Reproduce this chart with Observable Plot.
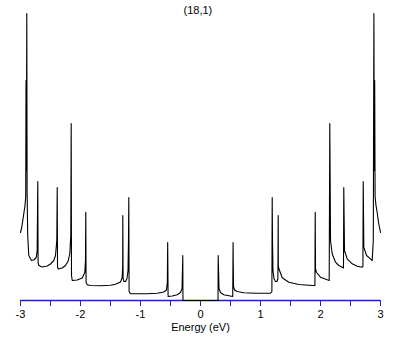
<!DOCTYPE html>
<html>
<head>
<meta charset="utf-8">
<script src="https://cdn.jsdelivr.net/npm/d3@7"></script>
<script src="https://cdn.jsdelivr.net/npm/@observablehq/plot@0.6"></script>
<style>
  html, body { margin: 0; padding: 0; background: #fff; }
  #chart svg { display: block; }
</style>
</head>
<body>
<div id="chart"></div>
<script>
const title = "(18,1)";
const xLabel = "Energy (eV)";
const tickValues = [-3, -2.5, -2, -1.5, -1, -0.5, 0, 0.5, 1, 1.5, 2, 2.5, 3];

// Density of states (arbitrary units)
const energy = [
  -3.000, -2.983, -2.962, -2.942, -2.925, -2.913, -2.908, -2.903, -2.895, -2.890, -2.880, -2.862,
  -2.817, -2.778, -2.738, -2.722, -2.712, -2.707, -2.695, -2.638, -2.555, -2.500, -2.445, -2.417,
  -2.395, -2.388, -2.383, -2.372, -2.305, -2.250, -2.205, -2.178, -2.162, -2.155, -2.150, -2.138,
  -2.055, -1.972, -1.928, -1.917, -1.912, -1.907, -1.888, -1.833, -1.667, -1.500, -1.417, -1.333,
  -1.305, -1.297, -1.295, -1.290, -1.275, -1.250, -1.225, -1.208, -1.200, -1.195, -1.190, -1.167,
  -0.888, -0.722, -0.612, -0.567, -0.553, -0.547, -0.540, -0.472, -0.388, -0.333, -0.308, -0.295,
  -0.292,
  0.292, 0.295, 0.308, 0.333, 0.388, 0.472, 0.537, 0.543, 0.550, 0.567, 0.612, 0.722, 0.917, 1.167,
  1.190, 1.195, 1.200, 1.208, 1.225, 1.250, 1.275, 1.290, 1.295, 1.297, 1.305, 1.362, 1.472, 1.638,
  1.862, 1.907, 1.912, 1.917, 1.933, 2.000, 2.112, 2.145, 2.155, 2.167, 2.195, 2.250, 2.305, 2.362,
  2.383, 2.388, 2.400, 2.445, 2.528, 2.612, 2.695, 2.707, 2.712, 2.722, 2.767, 2.833, 2.862, 2.880,
  2.890, 2.897, 2.903, 2.910, 2.925, 2.945, 2.967, 3.000
];
const dos = [
  0.68, 0.72, 0.80, 0.88, 0.95, 1.04, 2.20, 1.30, 2.87, 1.10, 0.65, 0.45,
  0.40, 0.405, 0.43, 0.50, 1.19, 0.38, 0.35, 0.335, 0.345, 0.365, 0.40, 0.45,
  0.60, 1.13, 0.34, 0.315, 0.325, 0.35, 0.395, 0.47, 0.65, 1.77, 0.25, 0.20,
  0.205, 0.225, 0.28, 0.40, 0.883, 0.18, 0.157, 0.15, 0.147, 0.153, 0.163, 0.185,
  0.23, 0.35, 0.85, 0.22, 0.19, 0.19, 0.22, 0.30, 0.60, 1.03, 0.09, 0.067,
  0.067, 0.073, 0.085, 0.105, 0.18, 0.58, 0.04, 0.045, 0.058, 0.08, 0.12, 0.45,
  0,
  0, 0.45, 0.12, 0.08, 0.058, 0.048, 0.04, 0.58, 0.14, 0.105, 0.09, 0.078, 0.073, 0.073,
  0.09, 1.03, 0.60, 0.30, 0.22, 0.19, 0.19, 0.22, 0.85, 0.35, 0.32, 0.227, 0.183, 0.16,
  0.15, 0.15, 0.883, 0.317, 0.28, 0.233, 0.207, 0.20, 1.77, 0.60, 0.467, 0.383, 0.35, 0.333,
  0.325, 1.13, 0.50, 0.417, 0.367, 0.343, 0.333, 0.34, 1.19, 0.533, 0.45, 0.417, 0.40, 0.60,
  2.87, 1.30, 2.20, 1.04, 0.95, 0.88, 0.78, 0.68
];

const data = energy.map((e, i) => ({E: e, D: dos[i]}));
const blue = "#2222bb";
const font = "'Liberation Sans', Arial, sans-serif";

const chart = Plot.plot({
  width: 409,
  height: 345,
  marginLeft: 20,
  marginRight: 29,
  marginTop: 13,
  marginBottom: 45,
  style: {fontFamily: font, fontSize: "11px", background: "#fff", color: "#000"},
  x: {domain: [-3, 3]},
  y: {domain: [0, 2.87], axis: null},
  marks: [
    Plot.ruleY([0], {stroke: blue, strokeWidth: 1.3}),
    Plot.axisX({
      ticks: tickValues,
      tickSize: 6,
      tickPadding: 4,
      stroke: blue,
      fill: "#000",
      fontSize: 11,
      tickFormat: d => Number.isInteger(d) ? String(d) : "",
      label: null
    }),
    Plot.line(data, {x: "E", y: "D", stroke: "#000", strokeWidth: 1.1}),
    Plot.text([title], {frameAnchor: "top-left", dx: 163, dy: -7, text: d => d, fontSize: 11, fill: "#000"}),
    Plot.text([xLabel], {frameAnchor: "bottom", dy: 30, text: d => d, fontSize: 11, fill: "#000"})
  ]
});
document.getElementById("chart").appendChild(chart);
</script>
</body>
</html>
